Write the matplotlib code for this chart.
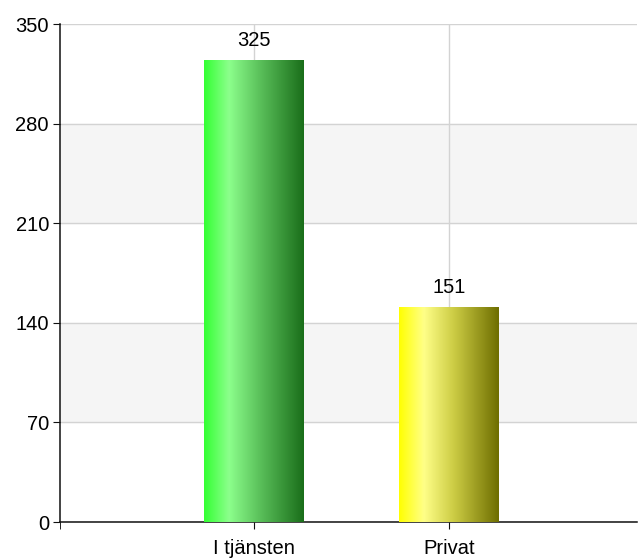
import numpy as np
import matplotlib.pyplot as plt
from matplotlib.colors import LinearSegmentedColormap

plt.rcParams['font.family'] = ['Liberation Sans', 'DejaVu Sans']

categories = ['I tjänsten', 'Privat']
values = [325, 151]
yticks = [0, 70, 140, 210, 280, 350]

# gradient stops per bar: left, highlight, right
grad_colors = [
    ['#33ff33', '#8cff8c', '#5cc25c', '#1a6e1a'],
    ['#ffff00', '#ffff88', '#cccc44', '#6e6e00'],
]
grad_pos = [0.0, 0.25, 0.55, 1.0]

fig = plt.figure(figsize=(6.38, 5.58), dpi=100)
ax = fig.add_axes([60/638, 36/558, 577/638, 498/558])

x = np.arange(1, len(categories) + 1)

# alternating bands
for i in range(len(yticks) - 1):
    if i % 2 == 1:
        ax.axhspan(yticks[i], yticks[i + 1], color='#f5f5f5', zorder=0)

ax.set_yticks(yticks)
ax.set_xticks(x)
ax.set_xticklabels(categories)
ax.grid(True, color='#d3d3d3', linewidth=1, zorder=1)
ax.set_axisbelow(True)

bars = ax.bar(x, values, width=0.51, color='none', zorder=2)
grad = np.linspace(0, 1, 256).reshape(1, -1)
for b, cols in zip(bars, grad_colors):
    cmap = LinearSegmentedColormap.from_list('g', list(zip(grad_pos, cols)))
    x0, y0 = b.get_x(), b.get_y()
    w, h = b.get_width(), b.get_height()
    im = ax.imshow(grad, cmap=cmap, aspect='auto', extent=(x0, x0 + w, y0, y0 + h),
                   zorder=3, interpolation='bilinear')
    im.set_clip_path(b)

for xi, v in zip(x, values):
    ax.annotate(str(v), (xi, v), xytext=(0, 7), textcoords='offset points',
                ha='center', va='bottom', fontsize=14.5)

ax.set_xlim(0.005, 2.965)
ax.set_ylim(0, 350)

for s in ['top', 'right']:
    ax.spines[s].set_visible(False)
ax.spines['left'].set_color('#111111')
ax.spines['bottom'].set_color('#111111')
ax.spines['left'].set_linewidth(1.1)
ax.spines['bottom'].set_linewidth(1.1)
ax.tick_params(axis='both', labelsize=14.5, length=5, color='#111111')
ax.tick_params(axis='x', pad=7)
ax.tick_params(axis='y', pad=3)
ax.set_xticks([0.005], minor=True)
ax.tick_params(axis='x', which='minor', length=5)

fig.savefig('out.png', dpi=100)
